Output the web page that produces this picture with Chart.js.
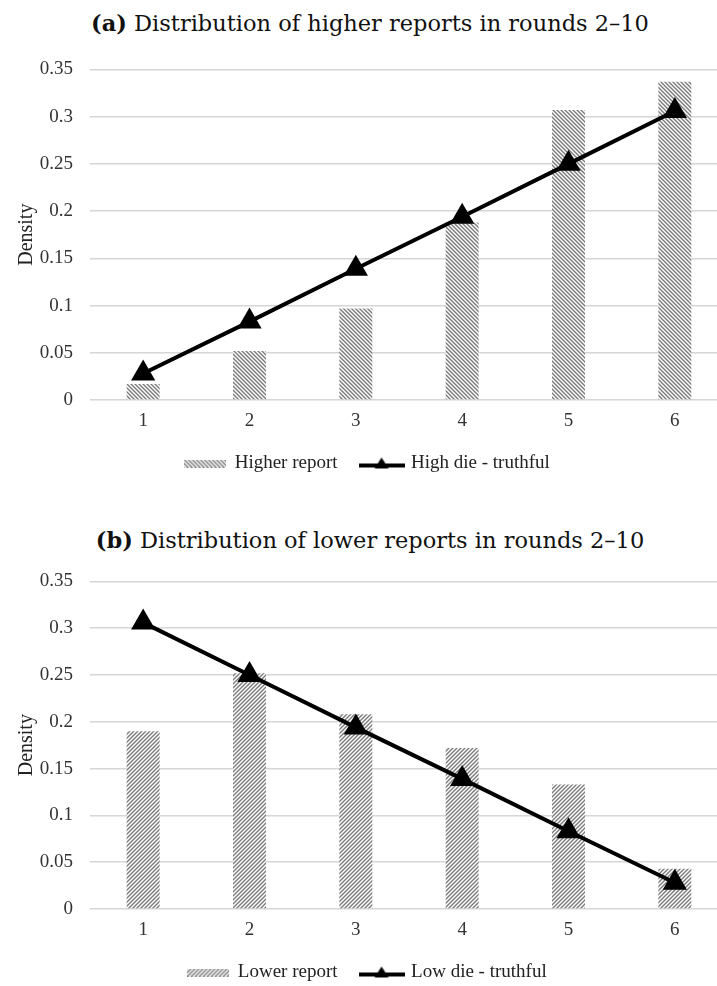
<!DOCTYPE html>
<html>
<head>
<meta charset="utf-8">
<script src="https://cdn.jsdelivr.net/npm/chart.js@4"></script>
<style>
  html, body { margin: 0; padding: 0; background: #fff; overflow: hidden; }
  body { width: 717px; height: 986px; position: relative; }
  .title {
    position: absolute; left: 0; width: 740px; text-align: center;
    font-family: "DejaVu Serif", serif; font-size: 22.5px; color: #111;
    line-height: 30px; white-space: nowrap;
  }
  canvas { position: absolute; left: 0; }
</style>
</head>
<body>
<div class="title" style="top: 8px;"><b>(a)</b> Distribution of higher reports in rounds 2–10</div>
<canvas id="chartA" width="742" height="442" style="top: 41px;"></canvas>
<div class="title" style="top: 525px;"><b>(b)</b> Distribution of lower reports in rounds 2–10</div>
<canvas id="chartB" width="742" height="439" style="top: 553px;"></canvas>
<script>
// die faces and axis labels
const categories = ["1", "2", "3", "4", "5", "6"];
const yTickLabels = ["0", "0.05", "0.1", "0.15", "0.2", "0.25", "0.3", "0.35"];

// panel (a): higher reports vs truthful high die
const higherReport = [0.017, 0.052, 0.097, 0.188, 0.307, 0.337];
const highDieTruthful = [0.028, 0.083, 0.139, 0.194, 0.250, 0.306];

// panel (b): lower reports vs truthful low die
const lowerReport = [0.190, 0.252, 0.208, 0.172, 0.133, 0.043];
const lowDieTruthful = [0.306, 0.250, 0.194, 0.139, 0.083, 0.028];

const serif = '"Liberation Serif", "Times New Roman", serif';
Chart.defaults.font.family = serif;
Chart.defaults.font.size = 19;
Chart.defaults.color = "#333";

// small diagonal hatch tile, "down" = \\\ and "up" = ///
function hatchTile(dir) {
    const c = document.createElement("canvas");
    c.width = 4; c.height = 4;
    const g = c.getContext("2d");
    g.fillStyle = "#fff";
    g.fillRect(0, 0, 4, 4);
    g.strokeStyle = "#7a7a7a";
    g.lineWidth = 1.4;
    g.beginPath();
    if (dir === "down") {
        g.moveTo(-1, -1); g.lineTo(5, 5);
        g.moveTo(-1, 3); g.lineTo(1, 5);
        g.moveTo(3, -1); g.lineTo(5, 1);
    } else {
        g.moveTo(-1, 5); g.lineTo(5, -1);
        g.moveTo(-1, 1); g.lineTo(1, -1);
        g.moveTo(3, 5); g.lineTo(5, 3);
    }
    g.stroke();
    return c;
}

function hatchPattern(dir) {
    const ctx = document.createElement("canvas").getContext("2d");
    return ctx.createPattern(hatchTile(dir), "repeat");
}

// legend swatch for the hatched bars
function barIcon(dir) {
    const c = document.createElement("canvas");
    c.width = 42; c.height = 8;
    const g = c.getContext("2d");
    g.fillStyle = g.createPattern(hatchTile(dir), "repeat");
    g.fillRect(0, 0, 42, 8);
    return c;
}

// legend swatch for the line with triangle marker
function lineIcon() {
    const c = document.createElement("canvas");
    c.width = 46; c.height = 16;
    const g = c.getContext("2d");
    g.strokeStyle = "#000";
    g.lineWidth = 4;
    g.beginPath();
    g.moveTo(0, 10); g.lineTo(46, 10);
    g.stroke();
    g.fillStyle = "#000";
    g.beginPath();
    g.moveTo(23, 2); g.lineTo(30, 13); g.lineTo(16, 13);
    g.closePath();
    g.fill();
    return c;
}

function makeChart(id, barData, barLabel, lineData, lineLabel, dir) {
    const icons = [barIcon(dir), lineIcon()];
    return new Chart(document.getElementById(id), {
        data: {
            labels: categories,
            datasets: [{
                type: "bar",
                label: barLabel,
                data: barData,
                backgroundColor: hatchPattern(dir),
                borderWidth: 0,
                categoryPercentage: 1,
                barPercentage: 0.31,
                order: 1
            }, {
                type: "line",
                label: lineLabel,
                data: lineData,
                borderColor: "#000",
                borderWidth: 4,
                backgroundColor: "#000",
                pointStyle: "triangle",
                pointRadius: 14,
                pointBorderWidth: 0,
                tension: 0,
                order: 0
            }]
        },
        options: {
            responsive: false,
            animation: false,
            layout: { padding: { top: 20, right: 7, bottom: 0, left: 0 } },
            plugins: {
                tooltip: { enabled: false },
                legend: {
                    position: "bottom",
                    labels: {
                        usePointStyle: true,
                        pointStyleWidth: 40,
                        padding: 24,
                        color: "#222",
                        font: { family: serif, size: 19 },
                        generateLabels: function (chart) {
                            return chart.data.datasets.map(function (ds, i) {
                                return {
                                    text: ds.label,
                                    pointStyle: icons[i],
                                    datasetIndex: i,
                                    hidden: false,
                                    lineWidth: 0,
                                    fillStyle: "transparent",
                                    strokeStyle: "transparent",
                                    fontColor: "#222"
                                };
                            });
                        }
                    }
                }
            },
            scales: {
                x: {
                    grid: { display: false, drawTicks: false },
                    border: { display: false },
                    ticks: { padding: 10, color: "#333", font: { family: serif, size: 19 } },
                    afterFit: function (scale) { scale.height = 30; }
                },
                y: {
                    min: 0,
                    max: 0.35,
                    ticks: {
                        stepSize: 0.05,
                        padding: 17,
                        color: "#333",
                        font: { family: serif, size: 19 },
                        callback: function (value, index) { return yTickLabels[index]; }
                    },
                    grid: { color: "#d6d6d6", lineWidth: 1.5, drawTicks: false },
                    border: { display: false },
                    title: {
                        display: true,
                        text: "Density",
                        font: { family: serif, size: 20 },
                        color: "#222",
                        padding: { top: 15, bottom: 0 }
                    },
                    afterFit: function (scale) { scale.width = 90; }
                }
            }
        }
    });
}

makeChart("chartA", higherReport, "Higher report", highDieTruthful, "High die - truthful", "down");
makeChart("chartB", lowerReport, "Lower report", lowDieTruthful, "Low die - truthful", "up");
</script>
</body>
</html>
